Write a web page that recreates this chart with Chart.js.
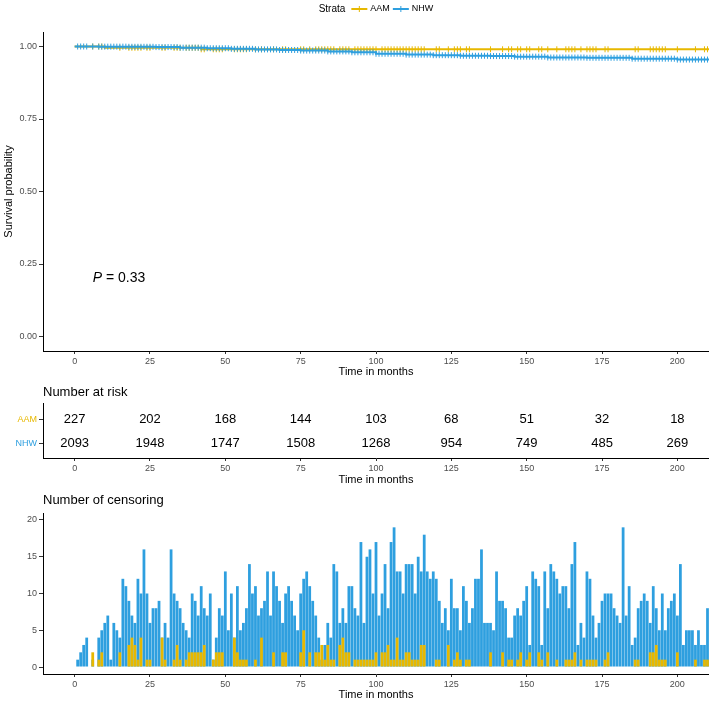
<!DOCTYPE html>
<html>
<head>
<meta charset="utf-8">
<title>Survival by strata</title>
<script src="https://cdn.jsdelivr.net/npm/chart.js@4.4.1/dist/chart.umd.min.js"></script>
<style>
  html, body { margin: 0; padding: 0; background: #fff; }
  #wrap { position: relative; width: 709px; height: 702px; overflow: hidden; }
  canvas { position: absolute; left: 0; }
  #survChart { top: 0; }
  #riskChart { top: 380px; }
  #censChart { top: 490px; }
</style>
</head>
<body>
<div id="wrap">
  <canvas id="survChart" width="709" height="380"></canvas>
  <canvas id="riskChart" width="709" height="110"></canvas>
  <canvas id="censChart" width="709" height="212"></canvas>
</div>
<script>
const FONT = "'Liberation Sans', Arial, Helvetica, sans-serif";
const AAM_COLOR = "#E7B800";
const NHW_COLOR = "#2E9FDF";
const AXIS_TEXT = "#4d4d4d";

const strataNames = ["AAM", "NHW"];
const timeTicks = [0, 25, 50, 75, 100, 125, 150, 175, 200];
const survTicks = [0, 0.25, 0.5, 0.75, 1];

// Kaplan-Meier steps (time in months, survival probability)
const aamTime = [0, 10, 42, 211];
const aamSurv = [1, 0.9956, 0.9904, 0.9904];
const nhwTime = [0, 8, 18, 27, 35, 44, 52, 60, 68, 75, 84, 92, 100, 110, 119, 128, 138, 146, 157, 170, 185, 200, 211];
const nhwSurv = [1, 0.9995, 0.999, 0.998, 0.996, 0.994, 0.992, 0.99, 0.988, 0.986, 0.983, 0.98, 0.975, 0.972, 0.97, 0.968, 0.967, 0.965, 0.962, 0.961, 0.958, 0.955, 0.955];
const pValue = "0.33";

// number at risk at each time tick
const riskAAM = [227, 202, 168, 144, 103, 68, 51, 32, 18];
const riskNHW = [2093, 1948, 1747, 1508, 1268, 954, 749, 485, 269];

// number censored per month, months 1..210
const nhwCensor = [
  1, 2, 3, 4, 0, 1, 0, 4, 5, 6,
  7, 1, 6, 5, 4, 12, 11, 9, 7, 6,
  12, 10, 16, 10, 6, 8, 8, 9, 4, 6,
  4, 16, 10, 9, 8, 6, 5, 4, 10, 9,
  7, 11, 8, 7, 10, 1, 4, 8, 7, 13,
  5, 10, 4, 11, 5, 6, 8, 14, 10, 11,
  7, 8, 9, 13, 7, 13, 11, 9, 6, 10,
  11, 9, 7, 5, 10, 12, 13, 11, 9, 7,
  4, 1, 3, 6, 4, 14, 13, 6, 8, 6,
  11, 11, 8, 7, 17, 6, 15, 16, 10, 17,
  7, 10, 14, 8, 17, 19, 13, 13, 10, 14,
  14, 14, 10, 15, 13, 18, 13, 12, 13, 12,
  9, 6, 8, 5, 12, 8, 8, 5, 11, 9,
  6, 8, 12, 12, 16, 6, 6, 6, 5, 13,
  9, 9, 8, 4, 4, 7, 8, 7, 9, 11,
  3, 13, 12, 11, 3, 13, 8, 14, 13, 12,
  10, 11, 11, 8, 14, 17, 3, 6, 4, 13,
  12, 7, 4, 6, 9, 10, 10, 10, 8, 7,
  6, 19, 7, 11, 3, 4, 8, 9, 10, 9,
  6, 11, 8, 5, 10, 5, 8, 9, 10, 7,
  14, 3, 5, 5, 5, 3, 5, 3, 3, 8
];
const aamCensor = [
  0, 0, 0, 0, 0, 2, 0, 1, 2, 0,
  0, 0, 0, 0, 2, 0, 0, 3, 4, 3,
  1, 4, 0, 1, 1, 0, 0, 0, 4, 1,
  0, 0, 1, 3, 1, 0, 1, 2, 2, 2,
  2, 2, 3, 0, 0, 1, 2, 2, 2, 0,
  0, 0, 4, 2, 1, 1, 1, 0, 0, 1,
  0, 4, 0, 0, 0, 2, 0, 0, 2, 2,
  0, 0, 0, 0, 2, 5, 0, 2, 0, 2,
  2, 3, 1, 3, 1, 1, 0, 3, 4, 2,
  2, 0, 1, 1, 1, 1, 1, 1, 1, 2,
  0, 2, 2, 3, 1, 1, 4, 1, 1, 2,
  2, 1, 1, 1, 3, 3, 0, 0, 0, 1,
  1, 0, 0, 3, 0, 1, 2, 1, 0, 1,
  1, 0, 0, 0, 0, 0, 0, 2, 0, 0,
  0, 2, 0, 1, 1, 0, 1, 2, 0, 1,
  2, 0, 0, 2, 1, 0, 2, 0, 0, 1,
  0, 0, 1, 1, 1, 2, 0, 1, 0, 1,
  1, 1, 1, 0, 0, 1, 2, 0, 0, 0,
  0, 0, 0, 0, 0, 1, 1, 0, 0, 0,
  2, 2, 3, 1, 1, 1, 0, 0, 0, 2,
  0, 0, 0, 0, 0, 1, 0, 0, 1, 1
];
const months = nhwCensor.map((_, i) => i + 1);

const X_MIN = -10.5;
const X_MAX = 210.5;

Chart.defaults.font.family = FONT;
Chart.defaults.animation = false;

function survAt(times, surv, t) {
  let s = surv[0];
  for (let i = 0; i < times.length; i++) if (times[i] <= t) s = surv[i];
  return s;
}

function censorMarks(times, surv, counts) {
  const pts = [];
  counts.forEach((n, i) => {
    if (n > 0) pts.push({ x: months[i], y: survAt(times, surv, months[i]) });
  });
  return pts;
}

function timeAxis(height, titlePadBottom) {
  return {
    type: "linear",
    min: X_MIN,
    max: X_MAX,
    offset: false,
    afterBuildTicks: (s) => { s.ticks = timeTicks.map((v) => ({ value: v })); },
    ticks: { color: AXIS_TEXT, font: { size: 9 }, padding: 2, maxRotation: 0, autoSkip: false },
    grid: { offset: false, drawOnChartArea: false, drawTicks: true, tickLength: 3, color: "#333" },
    border: { display: true, color: "#000", width: 1 },
    title: { display: true, text: "Time in months", color: "#000", font: { size: 11 }, padding: { top: 0, bottom: titlePadBottom } },
    afterFit: (s) => { s.height = height; s.paddingLeft = 0; s.paddingRight = 0; }
  };
}

function leftAxis(extra) {
  return Object.assign({
    type: "linear",
    grid: { drawOnChartArea: false, drawTicks: true, tickLength: 4, color: "#333" },
    border: { display: true, color: "#000", width: 1 },
    afterFit: (s) => { s.width = 43; }
  }, extra);
}

function panelTitle(text, y) {
  return {
    id: "panelTitle",
    afterDraw(chart) {
      const ctx = chart.ctx;
      ctx.save();
      ctx.font = "13px " + FONT;
      ctx.fillStyle = "#000";
      ctx.textBaseline = "middle";
      ctx.textAlign = "left";
      ctx.fillText(text, chart.chartArea.left, y);
      ctx.restore();
    }
  };
}

const strataLegend = {
  id: "strataLegend",
  afterDraw(chart) {
    const ctx = chart.ctx;
    const y = 9;
    ctx.save();
    ctx.textBaseline = "middle";
    ctx.textAlign = "left";
    ctx.font = "10px " + FONT;
    const wTitle = ctx.measureText("Strata").width;
    ctx.font = "9px " + FONT;
    const wLab = strataNames.map((s) => ctx.measureText(s).width);
    const keyW = 16;
    const total = wTitle + 6 + keyW + 3 + wLab[0] + 3 + keyW + 3 + wLab[1];
    let x = (chart.chartArea.left + chart.chartArea.right) / 2 - total / 2;
    ctx.fillStyle = "#000";
    ctx.font = "10px " + FONT;
    ctx.fillText("Strata", x, y);
    x += wTitle + 6;
    [AAM_COLOR, NHW_COLOR].forEach((col, i) => {
      ctx.strokeStyle = col;
      ctx.lineWidth = 2;
      ctx.beginPath();
      ctx.moveTo(x, y);
      ctx.lineTo(x + keyW, y);
      ctx.stroke();
      ctx.lineWidth = 1;
      ctx.beginPath();
      ctx.moveTo(x + keyW / 2, y - 3);
      ctx.lineTo(x + keyW / 2, y + 3);
      ctx.stroke();
      x += keyW + 3;
      ctx.fillStyle = "#000";
      ctx.font = "9px " + FONT;
      ctx.fillText(strataNames[i], x, y);
      x += wLab[i] + 3;
    });
    ctx.restore();
  }
};

const pvalLabel = {
  id: "pvalLabel",
  afterDatasetsDraw(chart) {
    const ctx = chart.ctx;
    const x = chart.scales.x.getPixelForValue(6);
    const y = chart.scales.y.getPixelForValue(0.2);
    ctx.save();
    ctx.fillStyle = "#000";
    ctx.textBaseline = "middle";
    ctx.textAlign = "left";
    ctx.font = "italic 14px " + FONT;
    ctx.fillText("P", x, y);
    const w = ctx.measureText("P").width;
    ctx.font = "14px " + FONT;
    ctx.fillText(" = " + pValue, x + w, y);
    ctx.restore();
  }
};

const stepData = (times, surv) => times.map((t, i) => ({ x: t, y: surv[i] }));

new Chart(document.getElementById("survChart"), {
  type: "line",
  data: {
    datasets: [
      { label: "NHW", data: stepData(nhwTime, nhwSurv), borderColor: NHW_COLOR, borderWidth: 2, stepped: true, pointRadius: 0, fill: false, order: 1 },
      { type: "scatter", label: "NHW censor", data: censorMarks(nhwTime, nhwSurv, nhwCensor), pointStyle: "line", rotation: 90, pointRadius: 3, borderColor: NHW_COLOR, pointBorderWidth: 1, order: 0 },
      { label: "AAM", data: stepData(aamTime, aamSurv), borderColor: AAM_COLOR, borderWidth: 2, stepped: true, pointRadius: 0, fill: false, order: 3 },
      { type: "scatter", label: "AAM censor", data: censorMarks(aamTime, aamSurv, aamCensor), pointStyle: "line", rotation: 90, pointRadius: 3, borderColor: AAM_COLOR, pointBorderWidth: 1, order: 2 }
    ]
  },
  options: {
    responsive: false,
    layout: { autoPadding: false, padding: { top: 32, left: 0, right: 0, bottom: 0 } },
    plugins: { legend: { display: false }, tooltip: { enabled: false } },
    scales: {
      x: timeAxis(29, 1),
      y: leftAxis({
        min: -0.05,
        max: 1.05,
        afterBuildTicks: (s) => { s.ticks = survTicks.map((v) => ({ value: v })); },
        ticks: { color: AXIS_TEXT, font: { size: 9 }, padding: 2, callback: (v) => Number(v).toFixed(2) },
        title: { display: true, text: "Survival probability", color: "#000", font: { size: 11 }, padding: { top: 2, bottom: 0 } }
      })
    }
  },
  plugins: [strataLegend, pvalLabel]
});

const riskLabels = {
  id: "riskLabels",
  afterDatasetsDraw(chart) {
    const ctx = chart.ctx;
    ctx.save();
    ctx.font = "13px " + FONT;
    ctx.fillStyle = "#000";
    ctx.textAlign = "center";
    ctx.textBaseline = "middle";
    chart.data.datasets.forEach((ds, di) => {
      chart.getDatasetMeta(di).data.forEach((pt, i) => {
        ctx.fillText(String(ds.data[i].n), pt.x, pt.y);
      });
    });
    ctx.restore();
  }
};

new Chart(document.getElementById("riskChart"), {
  type: "scatter",
  data: {
    datasets: [
      { label: "AAM", data: timeTicks.map((t, i) => ({ x: t, y: 0, n: riskAAM[i] })), pointRadius: 0 },
      { label: "NHW", data: timeTicks.map((t, i) => ({ x: t, y: 1, n: riskNHW[i] })), pointRadius: 0 }
    ]
  },
  options: {
    responsive: false,
    layout: { autoPadding: false, padding: { top: 23, left: 0, right: 0, bottom: 0 } },
    plugins: { legend: { display: false }, tooltip: { enabled: false } },
    scales: {
      x: timeAxis(32, 3),
      y: leftAxis({
        min: -0.67,
        max: 1.58,
        reverse: true,
        afterBuildTicks: (s) => { s.ticks = [{ value: 0 }, { value: 1 }]; },
        ticks: {
          font: { size: 9 },
          padding: 2,
          color: (c) => (c.tick && c.tick.value === 1 ? NHW_COLOR : AAM_COLOR),
          callback: (v) => strataNames[v]
        }
      })
    }
  },
  plugins: [riskLabels, panelTitle("Number at risk", 12)]
});

new Chart(document.getElementById("censChart"), {
  type: "bar",
  data: {
    datasets: [
      { label: "AAM", data: months.map((t, i) => ({ x: t, y: aamCensor[i] })), backgroundColor: AAM_COLOR, order: 0 },
      { label: "NHW", data: months.map((t, i) => ({ x: t, y: nhwCensor[i] })), backgroundColor: NHW_COLOR, order: 1 }
    ]
  },
  options: {
    responsive: false,
    grouped: false,
    barPercentage: 0.92,
    categoryPercentage: 1,
    layout: { autoPadding: false, padding: { top: 23, left: 0, right: 0, bottom: 0 } },
    plugins: { legend: { display: false }, tooltip: { enabled: false } },
    scales: {
      x: timeAxis(28, 0),
      y: leftAxis({
        min: -0.95,
        max: 20.95,
        afterBuildTicks: (s) => { s.ticks = [0, 5, 10, 15, 20].map((v) => ({ value: v })); },
        ticks: { color: AXIS_TEXT, font: { size: 9 }, padding: 2 }
      })
    }
  },
  plugins: [panelTitle("Number of censoring", 10)]
});
</script>
</body>
</html>
